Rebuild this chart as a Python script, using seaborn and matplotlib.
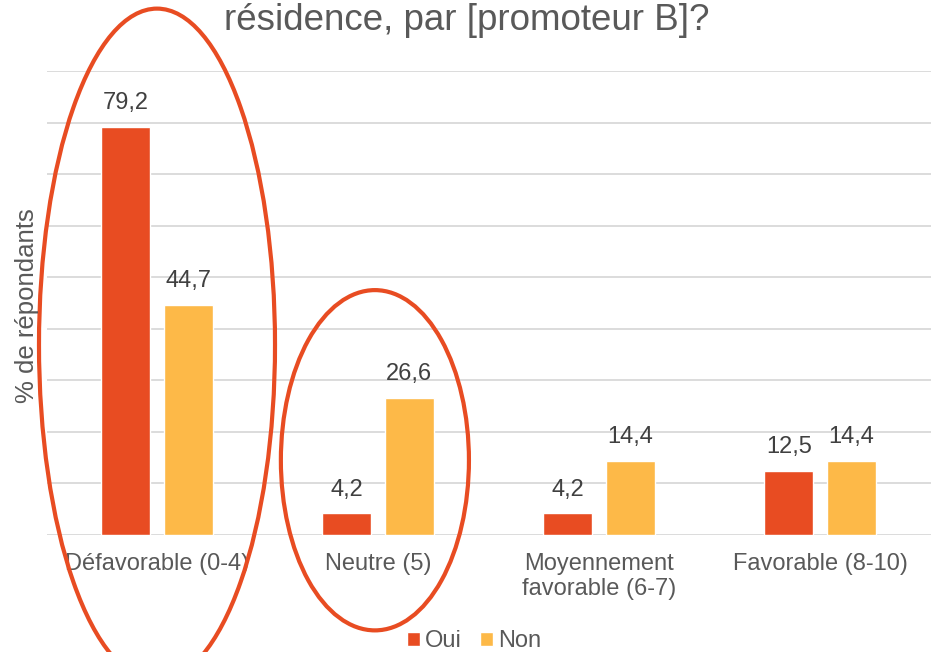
import matplotlib
matplotlib.use("Agg")
import matplotlib.pyplot as plt
from matplotlib.patches import Ellipse, Patch
import seaborn as sns
import pandas as pd

categories = ["Défavorable (0-4)", "Neutre (5)", "Moyennement\nfavorable (6-7)", "Favorable (8-10)"]
series_names = ["Oui", "Non"]
oui_values = [79.2, 4.2, 4.2, 12.5]
non_values = [44.7, 26.6, 14.4, 14.4]
title_text = "résidence, par [promoteur B]?"
ylabel_text = "% de répondants"

OUI_C = "#E84C22"
NON_C = "#FDB948"
TXT = "#595959"

sns.set_theme(style="white")
plt.rcParams['font.family'] = ['Liberation Sans', 'DejaVu Sans']

df = pd.DataFrame({
    "cat": categories * 2,
    "grp": [series_names[0]] * 4 + [series_names[1]] * 4,
    "val": oui_values + non_values,
})

fig = plt.figure(figsize=(9.34, 6.52), dpi=100)
ax = fig.add_axes([46.5 / 934, 1 - 535 / 652, 884 / 934, 464 / 652])

sns.barplot(data=df, x="cat", y="val", hue="grp", order=categories,
            hue_order=series_names, palette=[OUI_C, NON_C],
            width=0.566, gap=0.224, ax=ax, legend=False, errorbar=None,
            saturation=1)

ax.set_xlim(-0.5, 3.5)
ax.set_ylim(0, 90)
ax.set_yticks(range(0, 91, 10))
ax.set_yticklabels([])
ax.tick_params(axis="y", length=0)
ax.yaxis.grid(True, color="#D9D9D9", linewidth=1.3)
ax.set_axisbelow(True)
for s in ax.spines.values():
    s.set_visible(False)
ax.set_xlabel("")
ax.set_ylabel("")
ax.tick_params(axis="x", length=0, pad=13, labelsize=17, labelcolor=TXT)

for cont in ax.containers:
    ax.bar_label(cont, labels=[f"{v:.1f}".replace(".", ",") for v in cont.datavalues],
                 padding=9, fontsize=17, color="#404040")

fig.text(0.5, 1 - 30 / 652, title_text, ha="center", va="baseline",
         fontsize=26.5, color=TXT)
fig.text(27 / 934, 1 - 306 / 652, ylabel_text, rotation=90, ha="center",
         va="center", fontsize=18.5, color=TXT)

handles = [Patch(facecolor=OUI_C), Patch(facecolor=NON_C)]
fig.legend(handles, series_names, loc="center", bbox_to_anchor=(474 / 934, 1 - 641 / 652),
           ncol=2, frameon=False, fontsize=17, handlelength=0.55, handleheight=0.55,
           handletextpad=0.2, columnspacing=0.8, labelcolor=TXT, borderpad=0)

# highlight ellipses around the first two categories
ax.add_patch(Ellipse((0.0, 36.9), 1.068, 130.4, fill=False, edgecolor=OUI_C,
                     linewidth=3, clip_on=False, zorder=5))
ax.add_patch(Ellipse((0.986, 14.5), 0.851, 66, fill=False, edgecolor=OUI_C,
                     linewidth=3, clip_on=False, zorder=5))

fig.savefig("out.png", dpi=100)
